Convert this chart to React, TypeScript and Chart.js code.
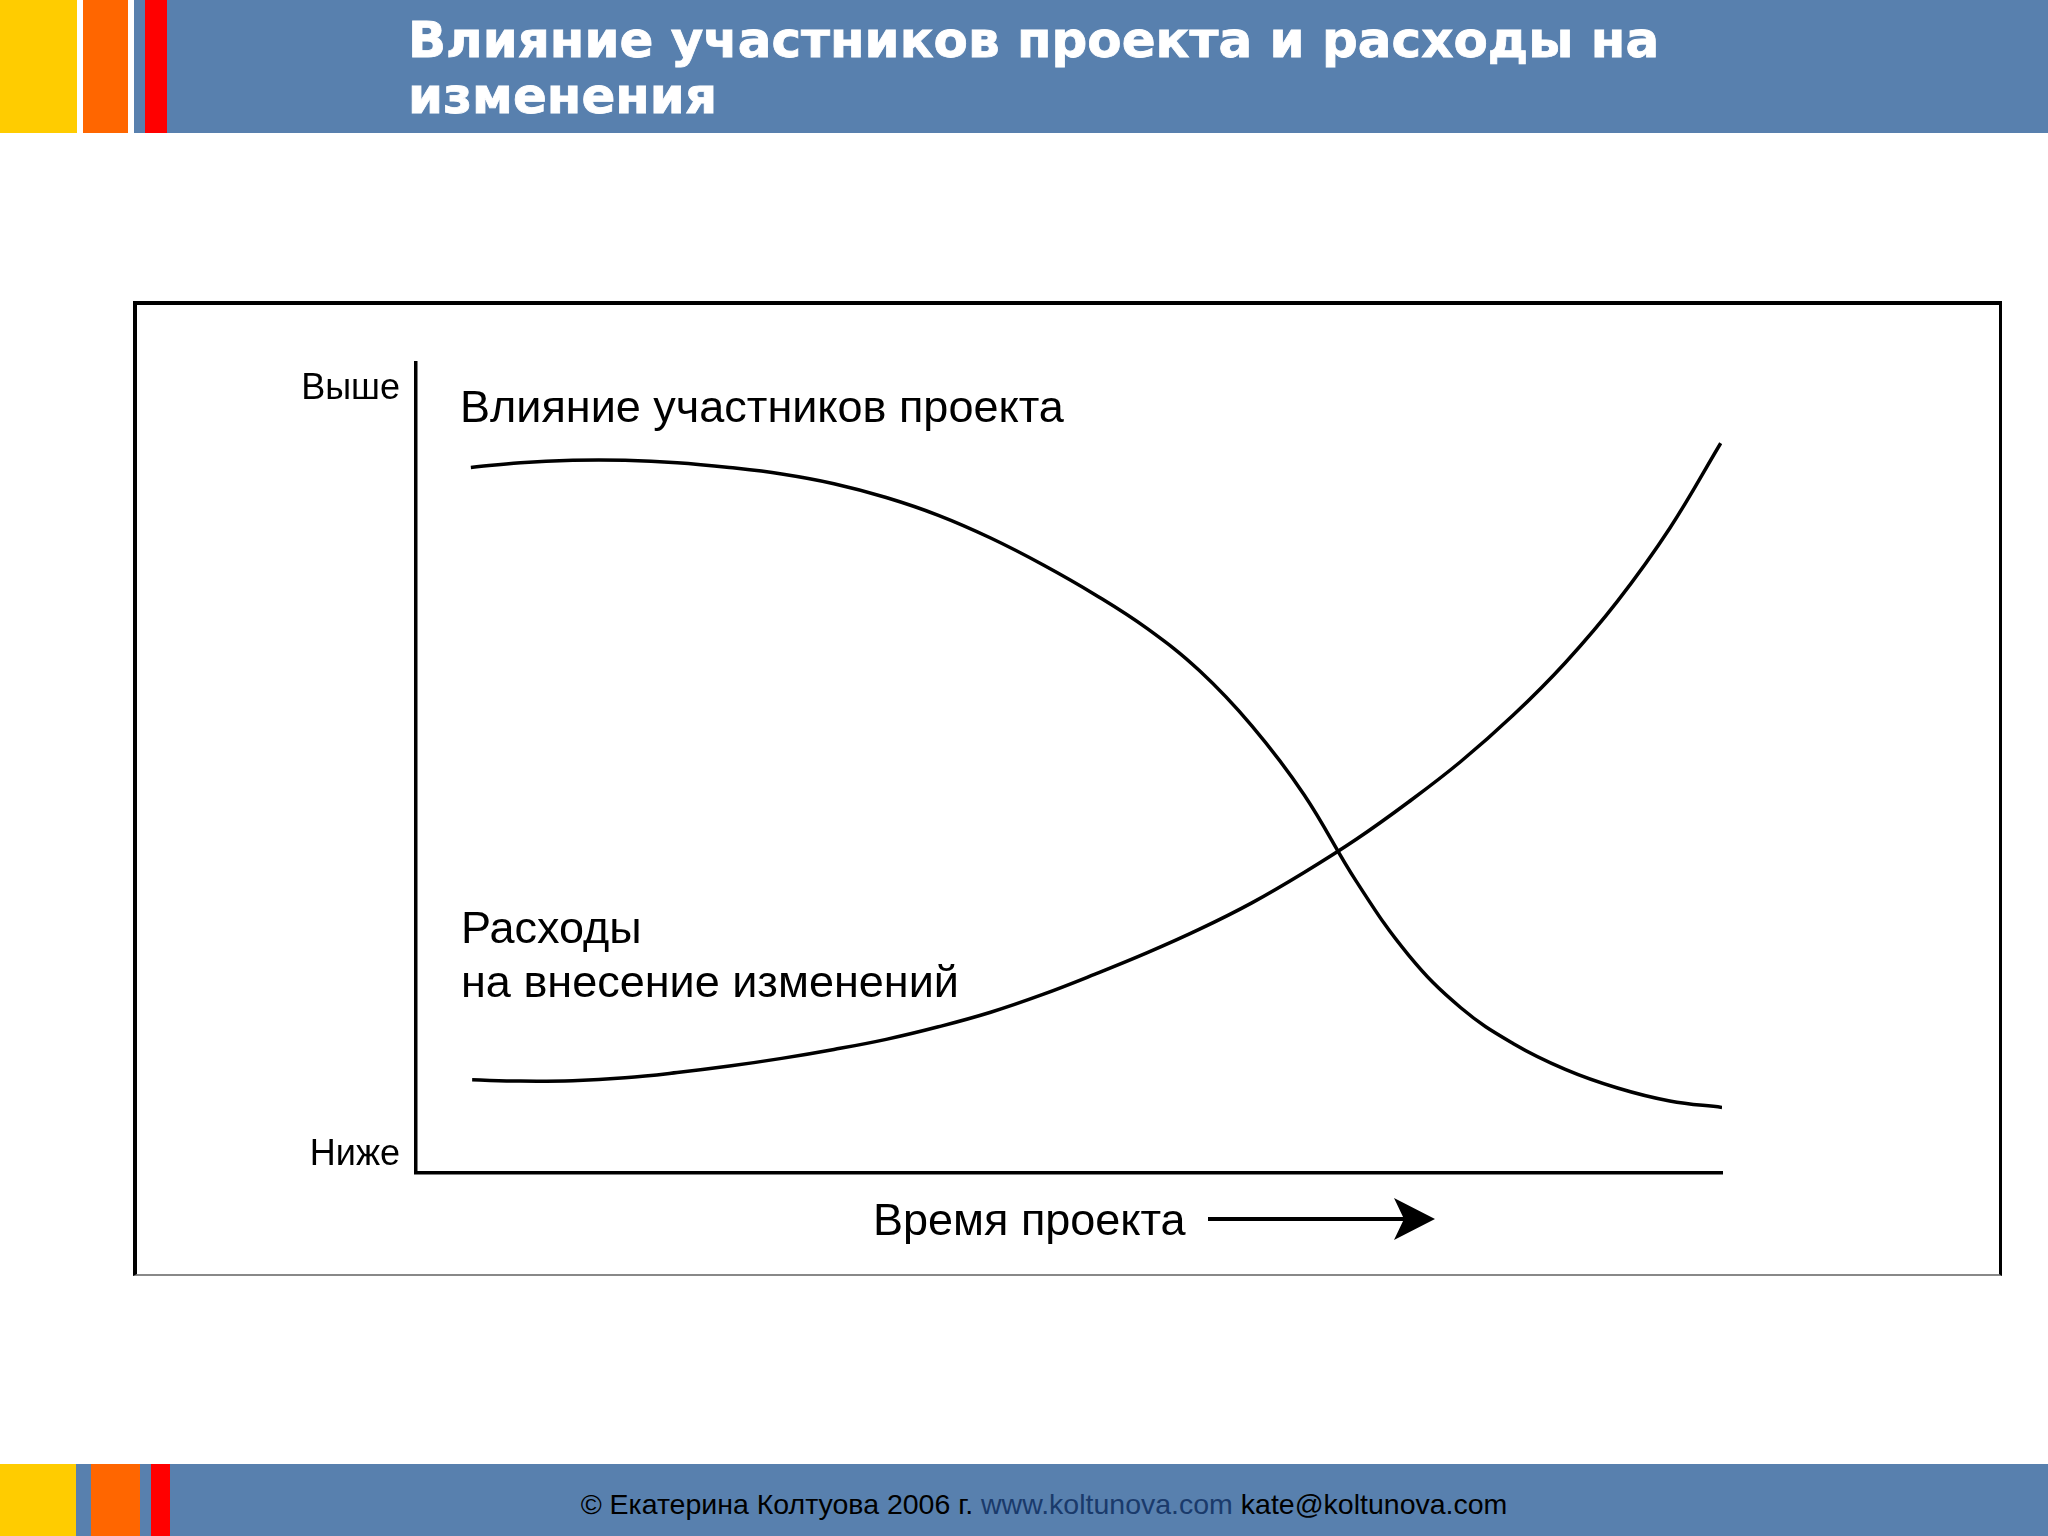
import React, { useEffect, useRef } from 'react';
import { Chart, registerables } from 'chart.js';

Chart.register(...registerables);

// time of project, conventional units 0..100 (x), level 0..100 (y)
const influenceX = [4.2, 8, 12, 16, 20, 24, 28, 32, 36, 40, 44, 48, 52, 56, 60, 64, 68, 72, 76, 80, 84, 88, 92, 96, 100];
const influenceY = [87.1, 87.7, 88.0, 88.0, 87.7, 87.1, 86.3, 85.1, 83.4, 81.2, 78.4, 75.1, 71.4, 67.2, 62.0, 55.2, 46.7, 36.0, 26.9, 20.4, 16.0, 12.8, 10.5, 8.9, 8.1];

const costX = [4.3, 8, 12, 16, 20, 24, 28, 32, 36, 40, 44, 48, 52, 56, 60, 64, 68, 72, 76, 80, 84, 88, 92, 96, 99.9];
const costY = [11.5, 11.35, 11.4, 11.75, 12.4, 13.2, 14.15, 15.25, 16.5, 18.05, 19.85, 22.05, 24.55, 27.2, 30.1, 33.35, 37.1, 41.2, 45.8, 50.8, 56.5, 63.0, 70.6, 79.6, 90.1];

const yTickValues = [2.2, 96.8];
const yTickLabels = ['Ниже', 'Выше'];

const influenceLabel = 'Влияние участников проекта';
const costLabel = ['Расходы', 'на внесение изменений'];
const xTitle = 'Время проекта';

const titleLines = ['Влияние участников проекта и расходы на', 'изменения'];

const FONT = '"Liberation Sans", Arial, sans-serif';

const toPoints = (xs: number[], ys: number[]) => xs.map((x, i) => ({ x, y: ys[i] }));

const notesPlugin = {
    id: 'notes',
    afterDraw(chart: any) {
        const { ctx, chartArea } = chart;
        const L = chartArea.left;
        const T = chartArea.top;
        const B = chartArea.bottom;
        ctx.save();
        ctx.fillStyle = '#000';
        ctx.strokeStyle = '#000';
        ctx.font = `45px ${FONT}`;
        ctx.textBaseline = 'alphabetic';
        ctx.textAlign = 'left';
        ctx.fillText(influenceLabel, L + 44, T + 59);
        costLabel.forEach((line, i) => ctx.fillText(line, L + 45, T + 580 + i * 54));
        // axis caption with arrow
        ctx.fillText(xTitle, L + 457, B + 62);
        ctx.lineWidth = 4;
        ctx.beginPath();
        ctx.moveTo(L + 792, B + 46);
        ctx.lineTo(L + 990, B + 46);
        ctx.stroke();
        ctx.beginPath();
        ctx.moveTo(L + 1019, B + 46);
        ctx.lineTo(L + 978, B + 25);
        ctx.lineTo(L + 988, B + 46);
        ctx.lineTo(L + 978, B + 67);
        ctx.closePath();
        ctx.fill();
        ctx.restore();
    }
};

const ChangeCostChart = () => {
    const canvasRef = useRef<HTMLCanvasElement | null>(null);
    const chartRef = useRef<Chart | null>(null);

    useEffect(() => {
        if (!canvasRef.current) return;
        if (chartRef.current) chartRef.current.destroy();
        const line = (label: string, xs: number[], ys: number[]) => ({
            label,
            data: toPoints(xs, ys),
            borderColor: '#000',
            borderWidth: 3.5,
            pointRadius: 0,
            tension: 0.4,
            fill: false
        });
        chartRef.current = new Chart(canvasRef.current, {
            type: 'line',
            data: {
                datasets: [
                    line(influenceLabel, influenceX, influenceY),
                    line(costLabel.join(' '), costX, costY)
                ]
            },
            options: {
                animation: false,
                responsive: true,
                maintainAspectRatio: false,
                layout: { padding: { left: 0, top: 57, right: 273, bottom: 0 } },
                plugins: { legend: { display: false }, tooltip: { enabled: false } },
                scales: {
                    x: {
                        type: 'linear',
                        min: 0,
                        max: 100,
                        grid: { display: false, drawTicks: false },
                        border: { display: true, color: '#000', width: 3.5 },
                        ticks: { display: false },
                        afterFit: (scale: any) => { scale.height = 98; }
                    },
                    y: {
                        type: 'linear',
                        min: 0,
                        max: 100,
                        grid: { display: false, drawTicks: false },
                        border: { display: true, color: '#000', width: 3.5 },
                        afterBuildTicks: (scale: any) => { scale.ticks = yTickValues.map((v) => ({ value: v })); },
                        ticks: {
                            color: '#000',
                            padding: 16,
                            font: { family: FONT, size: 36 },
                            callback: (_v: any, i: number) => yTickLabels[i]
                        },
                        afterFit: (scale: any) => { scale.width = 276; }
                    }
                }
            },
            plugins: [notesPlugin]
        });
        return () => { if (chartRef.current) { chartRef.current.destroy(); chartRef.current = null; } };
    }, []);

    return (
        <div style={{ position: 'absolute', left: 140, top: 306, width: 1855, height: 965 }}>
            <canvas ref={canvasRef}></canvas>
        </div>
    );
};

const BLUE = '#5880ae';

export default function App() {
    return (
        <div style={{ position: 'absolute', left: 0, top: 0, width: 2048, height: 1536, background: '#fff', overflow: 'hidden', fontFamily: FONT }}>
            {/* header */}
            <div style={{ position: 'absolute', left: 0, top: 0, width: 2048, height: 133, background: BLUE }}>
                <div style={{ position: 'absolute', left: 0, top: 0, width: 77, height: 133, background: '#ffcc00' }} />
                <div style={{ position: 'absolute', left: 77, top: 0, width: 6, height: 133, background: '#fff' }} />
                <div style={{ position: 'absolute', left: 83, top: 0, width: 45, height: 133, background: '#ff6600' }} />
                <div style={{ position: 'absolute', left: 128, top: 0, width: 6, height: 133, background: '#fff' }} />
                <div style={{ position: 'absolute', left: 145, top: 0, width: 22, height: 133, background: '#ff0000' }} />
                <div style={{ position: 'absolute', left: 408, top: 12, color: '#fff', fontFamily: '"DejaVu Sans", sans-serif', fontWeight: 'bold', fontSize: 50, lineHeight: '56px', whiteSpace: 'nowrap', WebkitTextStroke: '0.8px #fff' }}>
                    {titleLines.map((l, i) => <div key={i}>{l}</div>)}
                </div>
            </div>

            {/* chart frame */}
            <div style={{ position: 'absolute', left: 133, top: 301, width: 1869, height: 975, boxSizing: 'border-box', borderTop: '4px solid #000', borderLeft: '4px solid #000', borderRight: '3px solid #000', borderBottom: '2px solid #888' }} />
            <ChangeCostChart />

            {/* footer */}
            <div style={{ position: 'absolute', left: 0, top: 1464, width: 2048, height: 72, background: BLUE }}>
                <div style={{ position: 'absolute', left: 0, top: 0, width: 76, height: 72, background: '#ffcc00' }} />
                <div style={{ position: 'absolute', left: 91, top: 0, width: 49, height: 72, background: '#ff6600' }} />
                <div style={{ position: 'absolute', left: 151, top: 0, width: 19, height: 72, background: '#ff0000' }} />
                <div style={{ position: 'absolute', left: 0, top: 4, width: 2088, textAlign: 'center', fontSize: 28.5, lineHeight: '72px', color: '#000', whiteSpace: 'nowrap' }}>
                    © Екатерина Колтуова 2006 г. <span style={{ color: '#1a3a6b' }}>www.koltunova.com</span> kate@koltunova.com
                </div>
            </div>
        </div>
    );
}
